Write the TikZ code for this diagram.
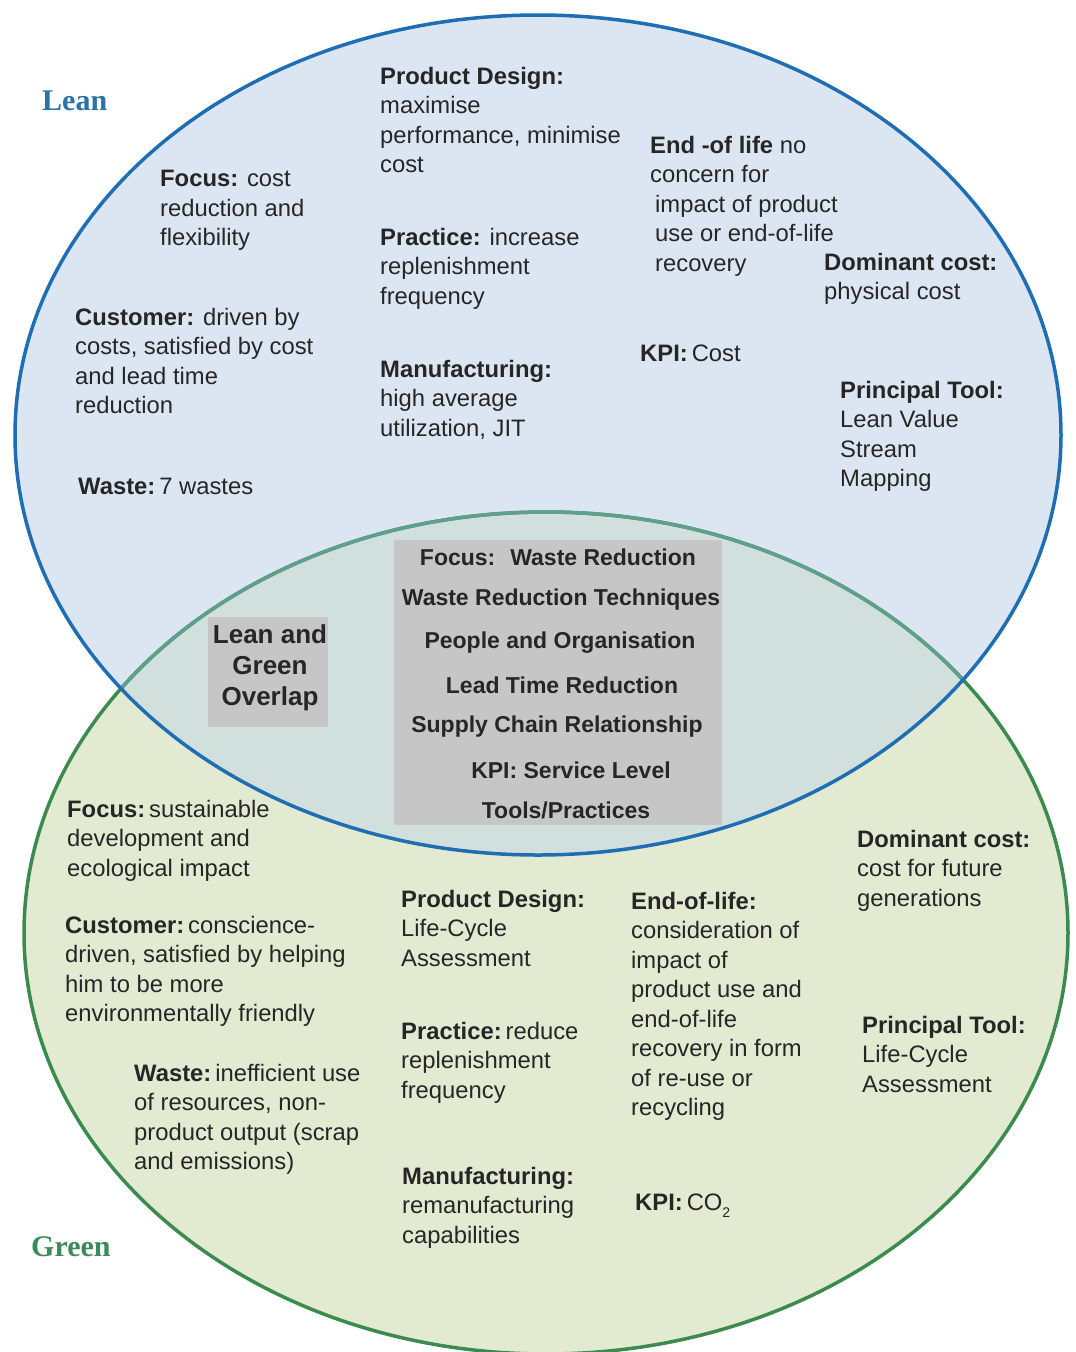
\documentclass[tikz,border=0pt]{standalone}
\usepackage{fontspec}
\setmainfont{Liberation Sans}
\newfontfamily\titlefont{Liberation Serif}
\definecolor{leanfill}{HTML}{DCE6F2}
\definecolor{greenfill}{HTML}{E3EAD2}
\definecolor{overlapfill}{HTML}{D2E0DD}
\definecolor{leanline}{HTML}{1F6EB4}
\definecolor{greenline}{HTML}{3B8B4E}
\definecolor{tealline}{HTML}{5E9F8D}
\definecolor{boxgray}{HTML}{C6C6C6}
\definecolor{textc}{HTML}{262626}
\definecolor{leantitle}{HTML}{2B72A8}
\definecolor{greentitle}{HTML}{3C8A5A}
\begin{document}
\begin{tikzpicture}[x=1pt,y=-1pt,
  txt/.style={anchor=north west, inner sep=0pt, align=left, font=\fontsize{23.8}{29.5}\selectfont, text=textc},
  ctxt/.style={anchor=center, inner sep=0pt, font=\bfseries\fontsize{23}{26}\selectfont, text=textc},
  title/.style={anchor=west, inner sep=0pt, font=\titlefont\bfseries\fontsize{30}{30}\selectfont}]
\useasboundingbox[fill=white] (0,0) rectangle (1076,1352);
% ellipses
\fill[leanfill] (538,435) ellipse [x radius=523pt, y radius=420pt];
\fill[greenfill] (546,933) ellipse [x radius=522pt, y radius=421pt];
\begin{scope}
  \clip (538,435) ellipse [x radius=523pt, y radius=420pt];
  \fill[overlapfill] (546,933) ellipse [x radius=522pt, y radius=421pt];
\end{scope}
\draw[greenline, line width=3.5pt] (546,933) ellipse [x radius=522pt, y radius=421pt];
\begin{scope}
  \clip (538,435) ellipse [x radius=523pt, y radius=420pt];
  \draw[tealline, line width=3.5pt] (546,933) ellipse [x radius=522pt, y radius=421pt];
\end{scope}
\draw[leanline, line width=3.5pt] (538,435) ellipse [x radius=523pt, y radius=420pt];

% titles
\node[title, text=leantitle] (leanT) at (42,101) {Lean};
\node[title, text=greentitle] (greenT) at (31,1247) {Green};

% Lean texts
\node[txt] (lpd) at (380,67) {\textbf{Product Design:}\\maximise\\performance, minimise\\cost};
\node[txt] (lfo) at (160,170) {\textbf{Focus:} cost\\reduction and\\flexibility};
\node[txt] (lpr) at (380,228) {\textbf{Practice:} increase\\replenishment\\frequency};
\node[txt] (lcu) at (75,308) {\textbf{Customer:} driven by\\costs, satisfied by cost\\and lead time\\reduction};
\node[txt] (lma) at (380,360) {\textbf{Manufacturing:}\\high average\\utilization, JIT};
\node[txt] (lwa) at (78,478) {\textbf{Waste:}\,7 wastes};
\node[txt] (leo) at (650,136) {\textbf{End -of life} no\\concern for\\\hspace{5pt}impact of product\\\hspace{5pt}use or end-of-life\\\hspace{5pt}recovery};
\node[txt] (ldc) at (824,253) {\textbf{Dominant cost:}\\physical cost};
\node[txt] (lkp) at (640,345) {\textbf{KPI:}\,Cost};
\node[txt] (lpt) at (840,381) {\textbf{Principal Tool:}\\Lean Value\\Stream\\Mapping};

% overlap boxes
\node[fill=boxgray, minimum width=120pt, minimum height=110pt, inner sep=0pt] (olbox) at (268,672) {};
\node[inner sep=0pt, align=center, font=\bfseries\fontsize{26}{31}\selectfont, text=textc] (oltxt) at (270,668) {Lean and\\Green\\Overlap};
\node[fill=boxgray, minimum width=328pt, minimum height=285pt, inner sep=0pt] (cbox) at (558,682) {};
\node[ctxt] (c1) at (558,557) {Focus: \ Waste Reduction};
\node[ctxt] (c2) at (561,600) {Waste Reduction Techniques};
\node[ctxt] (c3) at (560,643) {People and Organisation};
\node[ctxt] (c4) at (562,685) {Lead Time Reduction};
\node[ctxt] (c5) at (557,727) {Supply Chain Relationship};
\node[ctxt] (c6) at (571,770) {KPI: Service Level};
\node[ctxt] (c7) at (566,810) {Tools/Practices};

% Green texts
\node[txt] (gfo) at (67,800) {\textbf{Focus:}\,sustainable\\development and\\ecological impact};
\node[txt] (gcu) at (65,916) {\textbf{Customer:}\,conscience-\\driven, satisfied by helping\\him to be more\\environmentally friendly};
\node[txt] (gwa) at (134,1064) {\textbf{Waste:}\,inefficient use\\of resources, non-\\product output (scrap\\and emissions)};
\node[txt] (gpd) at (401,890) {\textbf{Product Design:}\\Life-Cycle\\Assessment};
\node[txt] (gpr) at (401,1022) {\textbf{Practice:}\,reduce\\replenishment\\frequency};
\node[txt] (gma) at (402,1167) {\textbf{Manufacturing:}\\remanufacturing\\capabilities};
\node[txt] (geo) at (631,892) {\textbf{End-of-life:}\\consideration of\\impact of\\product use and\\end-of-life\\recovery in form\\of re-use or\\recycling};
\node[txt] (gkp) at (635,1194) {\textbf{KPI:}\,CO\raisebox{-7pt}{\fontsize{14}{14}\selectfont 2}};
\node[txt] (gdc) at (857,830) {\textbf{Dominant cost:}\\cost for future\\generations};
\node[txt] (gpt) at (862,1016) {\textbf{Principal Tool:}\\Life-Cycle\\Assessment};
\end{tikzpicture}
\end{document}
